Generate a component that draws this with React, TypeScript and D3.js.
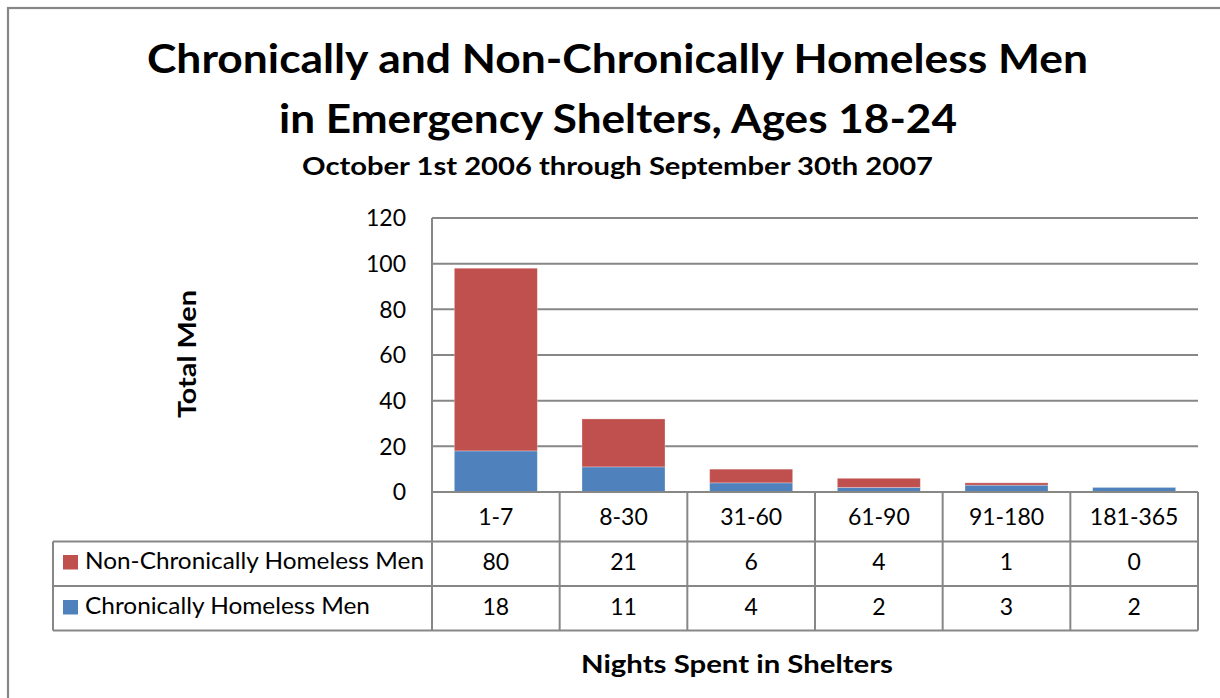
import React from "react";
import * as d3 from "d3";

const categories = ["1-7", "8-30", "31-60", "61-90", "91-180", "181-365"];
const nonChronic = [80, 21, 6, 4, 1, 0];
const chronic = [18, 11, 4, 2, 3, 2];
const yTicks = [0, 20, 40, 60, 80, 100, 120];
const seriesNames = ["Non-Chronically Homeless Men", "Chronically Homeless Men"];
const seriesColors = ["#C0504D", "#4F81BD"];

const W = 1220;
const H = 698;
const FONT = "Lato, 'Open Sans', 'Noto Sans', sans-serif";
const GRID = "#878787";

export default function App() {
  const plotLeft = 432;
  const plotRight = 1198;
  const plotTop = 218;
  const plotBottom = 492;
  const tableLeft = 53;
  const rowTops = [541.5, 586, 630.5];

  const xCol = d3.scaleBand<string>().domain(categories).range([plotLeft, plotRight]).padding(0);
  const xBar = d3
    .scaleBand<string>()
    .domain(categories)
    .range([plotLeft, plotRight])
    .paddingInner(0.35)
    .paddingOuter(0.175);
  const y = d3.scaleLinear().domain([0, 120]).range([plotBottom, plotTop]);

  const rows = categories.map((c, i) => ({ cat: c, chronic: chronic[i], non: nonChronic[i] }));
  const stack = d3.stack<any>().keys(["chronic", "non"]);
  const stacked = stack(rows);
  const stackColors: Record<string, string> = { chronic: seriesColors[1], non: seriesColors[0] };

  const tableValues = [nonChronic, chronic];
  const legendLengths = [339, 285];

  return (
    <svg
      width={W}
      height={H}
      style={{ position: "absolute", left: 0, top: 0, background: "#fff" }}
      fontFamily={FONT}
    >
      <rect x={0} y={0} width={W} height={H} fill="#fff" />
      <rect x={8} y={8} width={1400} height={900} fill="none" stroke={GRID} strokeWidth={2.2} />

      {/* Titles */}
      <text x={617.5} y={73} textAnchor="middle" fontSize={40.5} fontWeight={700} textLength={941} lengthAdjust="spacingAndGlyphs">
        Chronically and Non-Chronically Homeless Men
      </text>
      <text x={618} y={133} textAnchor="middle" fontSize={40.5} fontWeight={700} textLength={678} lengthAdjust="spacingAndGlyphs">
        in Emergency Shelters, Ages 18-24
      </text>
      <text x={617.5} y={175} textAnchor="middle" fontSize={24} fontWeight={700} textLength={631} lengthAdjust="spacingAndGlyphs">
        October 1st 2006 through September 30th 2007
      </text>

      {/* Gridlines */}
      {yTicks.map((t) => (
        <line key={"g" + t} x1={plotLeft} x2={plotRight} y1={y(t)} y2={y(t)} stroke={GRID} strokeWidth={2} />
      ))}

      {/* Y tick labels */}
      {yTicks.map((t) => (
        <text key={"t" + t} x={406} y={y(t) + 8.3} textAnchor="end" fontSize={23} fill="#000">
          {t}
        </text>
      ))}

      {/* Bars */}
      {stacked.map((s) => (
        <g key={s.key} fill={stackColors[s.key]}>
          {s.map((d, i) =>
            d[1] - d[0] > 0 ? (
              <rect
                key={i}
                x={xBar(categories[i])!}
                width={xBar.bandwidth()}
                y={y(d[1])}
                height={y(d[0]) - y(d[1])}
                stroke="#ffffff"
                strokeOpacity={0.35}
                strokeWidth={0.8}
              />
            ) : null
          )}
        </g>
      ))}

      {/* Axis line (zero) */}
      <line x1={plotLeft} x2={plotRight} y1={plotBottom} y2={plotBottom} stroke={GRID} strokeWidth={2} />
      {/* Y axis line */}
      <line x1={plotLeft} x2={plotLeft} y1={plotTop} y2={rowTops[2]} stroke={GRID} strokeWidth={2} />

      {/* Table column lines */}
      {categories.map((c) => (
        <line
          key={"cl" + c}
          x1={xCol(c)! + xCol.bandwidth()}
          x2={xCol(c)! + xCol.bandwidth()}
          y1={plotBottom}
          y2={rowTops[2]}
          stroke={GRID}
          strokeWidth={2}
        />
      ))}
      {/* Table row lines */}
      {rowTops.map((ry, i) => (
        <line key={"rl" + i} x1={tableLeft} x2={plotRight} y1={ry} y2={ry} stroke={GRID} strokeWidth={2} />
      ))}
      <line x1={tableLeft} x2={tableLeft} y1={rowTops[0]} y2={rowTops[2]} stroke={GRID} strokeWidth={2} />

      {/* Category labels */}
      {categories.map((c) => (
        <text key={"c" + c} x={xCol(c)! + xCol.bandwidth() / 2} y={525} textAnchor="middle" fontSize={23}>
          {c}
        </text>
      ))}

      {/* Legend column + values */}
      {seriesNames.map((name, r) => {
        const base = r === 0 ? 569 : 614;
        return (
          <g key={name}>
            <rect x={63} y={base - 14} width={15} height={14.5} fill={seriesColors[r]} />
            <text x={85} y={base} fontSize={22.5} textLength={legendLengths[r]} lengthAdjust="spacingAndGlyphs">
              {name}
            </text>
            {tableValues[r].map((v, i) => (
              <text key={i} x={xCol(categories[i])! + xCol.bandwidth() / 2} y={base + 1} textAnchor="middle" fontSize={23}>
                {v}
              </text>
            ))}
          </g>
        );
      })}

      {/* Axis titles */}
      <text x={737} y={673} textAnchor="middle" fontSize={24} fontWeight={700} textLength={312} lengthAdjust="spacingAndGlyphs">
        Nights Spent in Shelters
      </text>
      <text
        transform={`translate(196,354) rotate(-90)`}
        textAnchor="middle"
        fontSize={24}
        fontWeight={700}
        textLength={128}
        lengthAdjust="spacingAndGlyphs"
      >
        Total Men
      </text>
    </svg>
  );
}
